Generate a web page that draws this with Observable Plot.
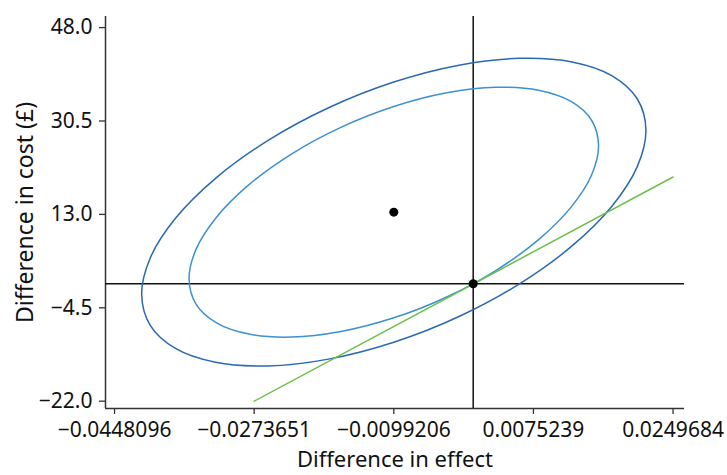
<!DOCTYPE html>
<html>
<head>
<meta charset="utf-8">
<script src="https://cdn.jsdelivr.net/npm/d3@7"></script>
<script src="https://cdn.jsdelivr.net/npm/@observablehq/plot@0.6"></script>
<style>
  html, body { margin: 0; padding: 0; background: #fff; }
  svg { display: block; }
</style>
</head>
<body>
<div id="chart"></div>
<script>
// Tick values and labels
const xTicks = [-0.0448096, -0.0273651, -0.0099206, 0.0075239, 0.0249684];
const xTickLabels = ["−0.0448096", "−0.0273651", "−0.0099206", "0.0075239", "0.0249684"];
const yTicks = [-22, -4.5, 13, 30.5, 48];
const yTickLabels = ["−22.0", "−4.5", "13.0", "30.5", "48.0"];
const xDomain = [-0.04594, 0.026399];
const yDomain = [-23.37, 50.08];

// Outer confidence ellipse
const outerX = [-0.04142, -0.04035, -0.0372, -0.03219, -0.02567, -0.01807, -0.00992, -0.00177, 0.00583, 0.01235,
  0.01736, 0.02051, 0.02158, 0.02051, 0.01736, 0.01235, 0.00583, -0.00177, -0.00992, -0.01807,
  -0.02567, -0.03219, -0.0372, -0.04035];
const outerY = [-2.0, 4.84, 12.26, 19.76, 26.82, 32.98, 37.8, 40.96, 42.24, 41.56,
  38.96, 34.62, 28.84, 22.0, 14.58, 7.09, 0.02, -6.14, -10.96, -14.12,
  -15.4, -14.72, -12.12, -7.78];

// Inner confidence ellipse
const innerX = [-0.0355, -0.03463, -0.03207, -0.02801, -0.02271, -0.01654, -0.00992, -0.0033, 0.00287, 0.00817,
  0.01223, 0.01479, 0.01566, 0.01479, 0.01223, 0.00817, 0.00287, -0.0033, -0.00992, -0.01654,
  -0.02271, -0.02801, -0.03207, -0.03463];
const innerY = [0.9, 6.45, 12.48, 18.57, 24.31, 29.31, 33.22, 35.79, 36.83, 36.27,
  34.16, 30.64, 25.94, 20.39, 14.36, 8.27, 2.53, -2.47, -6.38, -8.95,
  -9.99, -9.43, -7.32, -3.8];

// Points
const centerX = [-0.0099206];
const centerY = [13.42];
const originX = [0];
const originY = [0];

// Threshold line
const greenX = [-0.0273651, 0.0249684];
const greenY = [-22, 20.0];

const outer = outerX.map((x, i) => ({x, y: outerY[i]}));
const inner = innerX.map((x, i) => ({x, y: innerY[i]}));
const green = greenX.map((x, i) => ({x, y: greenY[i]}));
const pts = [...centerX.map((x, i) => ({x, y: centerY[i]})), ...originX.map((x, i) => ({x, y: originY[i]}))];

const fmtX = d => xTickLabels[xTicks.indexOf(d)];
const fmtY = d => yTickLabels[yTicks.indexOf(d)];

const chart = Plot.plot({
  width: 727,
  height: 475,
  marginLeft: 105,
  marginRight: 43,
  marginTop: 16,
  marginBottom: 67,
  style: {fontFamily: "'Noto Sans', sans-serif", fontSize: "21px", color: "#111", background: "#fff"},
  x: {domain: xDomain},
  y: {domain: yDomain},
  marks: [
    Plot.axisX({ticks: xTicks, tickFormat: fmtX, tickSize: 6, tickPadding: 8, label: null, stroke: "#333", strokeWidth: 1.3, fontSize: 21}),
    Plot.axisY({ticks: yTicks, tickFormat: fmtY, tickSize: 6, tickPadding: 7, label: null, stroke: "#333", strokeWidth: 1.3, fontSize: 21}),
    Plot.ruleX([xDomain[0]], {stroke: "#333", strokeWidth: 1.5}),
    Plot.ruleY([yDomain[0]], {stroke: "#333", strokeWidth: 1.5}),
    Plot.ruleX([0], {stroke: "#111", strokeWidth: 1.5}),
    Plot.ruleY([0], {stroke: "#111", strokeWidth: 1.5}),
    Plot.line(outer, {x: "x", y: "y", curve: "catmull-rom-closed", stroke: "#2b68b3", strokeWidth: 1.5}),
    Plot.line(inner, {x: "x", y: "y", curve: "catmull-rom-closed", stroke: "#3d90d2", strokeWidth: 1.5}),
    Plot.line(green, {x: "x", y: "y", stroke: "#6cc04a", strokeWidth: 1.5}),
    Plot.dot(pts, {x: "x", y: "y", r: 4.5, fill: "#000", stroke: null}),
    Plot.text(["Difference in cost (£)"], {frameAnchor: "left", textAnchor: "middle", dx: -80, rotate: -90, fontSize: 23, fill: "#111"}),
    Plot.text(["Difference in effect"], {frameAnchor: "bottom", textAnchor: "middle", dy: 58, fontSize: 22, fill: "#111"})
  ]
});
document.getElementById("chart").appendChild(chart);
</script>
</body>
</html>
